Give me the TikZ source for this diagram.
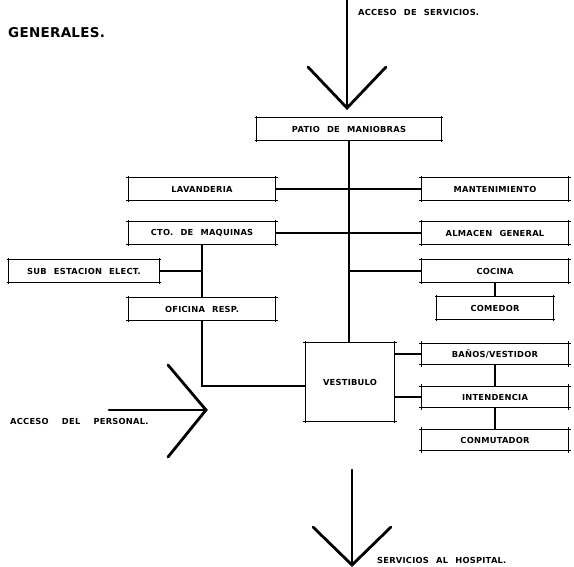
\documentclass[tikz,border=0pt]{standalone}
\usepackage{fontspec}
\newfontfamily\rotulo[LetterSpace=3,WordSpace=2.3]{DejaVu Sans}
\newfontfamily\titulo[LetterSpace=2]{DejaVu Sans}
\usetikzlibrary{positioning}
\tikzset{
    sala/.style={draw=none, minimum width=147pt, minimum height=22pt, inner sep=0pt,
        font=\rotulo\bfseries\fontsize{8.3}{9}\selectfont}, % cajas de locales
    marco/.style={line width=0.7pt}, % contorno con esquinas cruzadas
    liga/.style={line width=1.2pt}, % relaciones entre locales
    flecha/.style={line width=2.8pt, line cap=round, line join=miter}, % accesos
    letrero/.style={anchor=west, inner sep=0pt, font=\rotulo\bfseries\fontsize{8.3}{9}\selectfont},
}

\begin{document}
\begin{tikzpicture}[x=1pt, y=1pt, node distance=40pt, on grid]
\useasboundingbox (0,0) rectangle (574,-566);

            % Locales
            \node[sala, minimum width=184pt] (patio) at (349,-129) {PATIO DE MANIOBRAS};
            \node[sala] (lav) at (202,-189) {LAVANDERIA};
            \node[sala] (cto) [below=44pt of lav] {CTO. DE MAQUINAS};
            \node[sala, minimum width=150pt] (sub) [below left=38pt and 118pt of cto] {SUB ESTACION ELECT.};
            \node[sala] (ofi) [below=76pt of cto] {OFICINA RESP.};
            \node[sala] (mant) at (495,-189) {MANTENIMIENTO};
            \node[sala] (alm) [below=44pt of mant] {ALMACEN GENERAL};
            \node[sala] (cocina) [below=38pt of alm] {COCINA};
            \node[sala, minimum width=116pt] (comedor) [below=37pt of cocina] {COMEDOR};
            \node[sala, minimum width=89pt, minimum height=78pt] (vest) at (350,-382) {VESTIBULO};
            \node[sala, minimum height=21pt] (banos) at (495,-354) {BAÑOS/VESTIDOR};
            \node[sala, minimum height=21pt] (inte) [below=43pt of banos] {INTENDENCIA};
            \node[sala, minimum height=21pt] (conm) [below=43pt of inte] {CONMUTADOR};

            % Contornos con trazos que se pasan de las esquinas
            \foreach \n in {patio,lav,cto,sub,ofi,mant,alm,cocina,comedor,vest,banos,inte,conm} {
                \draw[marco] ([xshift=-2pt]\n.north west) -- ([xshift=2pt]\n.north east);
                \draw[marco] ([xshift=-2pt]\n.south west) -- ([xshift=2pt]\n.south east);
                \draw[marco] ([yshift=2pt]\n.north west) -- ([yshift=-2pt]\n.south west);
                \draw[marco] ([yshift=2pt]\n.north east) -- ([yshift=-2pt]\n.south east);
            }

            % Relaciones
            \draw[liga] (patio.south) -- (patio.south |- vest.north);
            \draw[liga] (lav.east) -- (mant.west);
            \draw[liga] (cto.east) -- (alm.west);
            \draw[liga] (patio.south |- cocina.west) -- (cocina.west);
            \draw[liga] (cocina.south) -- (comedor.north);
            \draw[liga] (cto.south) -- (ofi.north);
            \draw[liga] (sub.east) -- (cto.south |- sub.east);
            \draw[liga] (ofi.south) |- ([yshift=-4pt]vest.west);
            \draw[liga] (vest.east |- banos.west) -- (banos.west);
            \draw[liga] (vest.east |- inte.west) -- (inte.west);
            \draw[liga] (banos.south) -- (inte.north);
            \draw[liga] (inte.south) -- (conm.north);

            % Accesos
            \coordinate (servIn) at (347,0);
            \coordinate (servTip) at (347,-108);
            \draw[flecha] (servIn) -- (servTip);
            \draw[flecha] ([shift={(-39,41)}]servTip) -- (servTip) -- ([shift={(39,41)}]servTip);

            \coordinate (persIn) at (109,-410);
            \coordinate (persTip) at (206,-410);
            \draw[flecha] (persIn) -- (persTip);
            \draw[flecha] ([shift={(-38,45)}]persTip) -- (persTip) -- ([shift={(-38,-47)}]persTip);

            \coordinate (hospIn) at (352,-470);
            \coordinate (hospTip) at (352,-565);
            \draw[flecha] (hospIn) -- (hospTip);
            \draw[flecha] ([shift={(-39,38)}]hospTip) -- (hospTip) -- ([shift={(39,38)}]hospTip);

            % Letreros
            \node[anchor=west, inner sep=0pt, font=\titulo\bfseries\fontsize{13.5}{15}\selectfont] (gen) at (8,-33) {GENERALES.};
            \node[letrero] (accServ) at (358,-12) {ACCESO DE SERVICIOS.};
            \node[letrero] (accPers) at (10,-421) {ACCESO\hspace{6pt} DEL\hspace{6pt} PERSONAL.};
            \node[letrero] (servHosp) at (377,-560) {SERVICIOS AL HOSPITAL.};

\end{tikzpicture}
\end{document}
